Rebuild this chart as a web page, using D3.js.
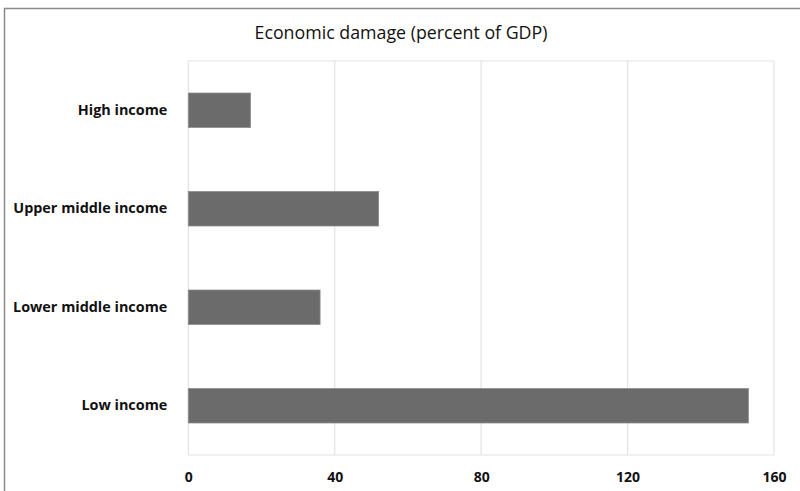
<!DOCTYPE html>
<html>
<head>
<meta charset="utf-8">
<script src="https://cdn.jsdelivr.net/npm/d3@7"></script>
<style>
html,body{margin:0;padding:0;background:#fff;}
svg{display:block;}
</style>
</head>
<body>
<svg id="chart" width="800" height="491"></svg>
<script>
const categories = ["High income", "Upper middle income", "Lower middle income", "Low income"];
const values = [17, 52, 36, 153];
const tickValues = [0, 40, 80, 120, 160];
const title = "Economic damage (percent of GDP)";

const svg = d3.select("#chart");
const W = 800, H = 491;
const m = {left: 188.3, right: 800 - 774, top: 61, bottom: 491 - 455};
const font = "'Open Sans', 'Noto Sans', sans-serif";

// outer frame (left and top visible)
svg.append("path")
  .attr("d", `M4.5,491 L4.5,8.5 L800,8.5`)
  .attr("fill", "none").attr("stroke", "#8a8a8a").attr("stroke-width", 1.5);

const x = d3.scaleLinear().domain([0, 160]).range([m.left, W - m.right]);
const y = d3.scaleBand().domain(categories).range([m.top, H - m.bottom]).paddingInner(0.65).paddingOuter(0.325);

// gridlines
svg.append("g").selectAll("line").data(tickValues).join("line")
  .attr("x1", d => x(d)).attr("x2", d => x(d))
  .attr("y1", m.top).attr("y2", H - m.bottom)
  .attr("stroke", "#e3e3e3").attr("stroke-width", 1.2);
// plot frame top & bottom
svg.append("line").attr("x1", x(0)).attr("x2", x(160)).attr("y1", m.top).attr("y2", m.top)
  .attr("stroke", "#e3e3e3").attr("stroke-width", 1.2);
svg.append("line").attr("x1", x(0)).attr("x2", x(160)).attr("y1", H - m.bottom).attr("y2", H - m.bottom)
  .attr("stroke", "#e3e3e3").attr("stroke-width", 1.2);

// bars
svg.append("g").selectAll("rect").data(values).join("rect")
  .attr("x", x(0))
  .attr("y", (d, i) => y(categories[i]))
  .attr("width", d => x(d) - x(0))
  .attr("height", y.bandwidth())
  .attr("fill", "#6b6b6b")
  .attr("stroke", "#8c8c8c").attr("stroke-width", 0.8);

// category labels
const yAxis = d3.axisLeft(y).tickSize(0).tickPadding(21);
const gy = svg.append("g").attr("transform", `translate(${x(0)},0)`).call(yAxis);
gy.select(".domain").remove();
gy.selectAll("text").attr("font-family", font).attr("font-size", 14.4).attr("font-weight", "bold").attr("fill", "#111");

// x axis
const xAxis = d3.axisBottom(x).tickValues(tickValues).tickSize(0).tickPadding(17);
const gx = svg.append("g").attr("transform", `translate(0,${H - m.bottom})`).call(xAxis);
gx.select(".domain").remove();
gx.selectAll("text").attr("font-family", font).attr("font-size", 14).attr("font-weight", "bold").attr("fill", "#111");

// title
svg.append("text").attr("x", 401).attr("y", 39).attr("text-anchor", "middle")
  .attr("font-family", font).attr("font-size", 17.8).attr("fill", "#111").text(title);
</script>
</body>
</html>
